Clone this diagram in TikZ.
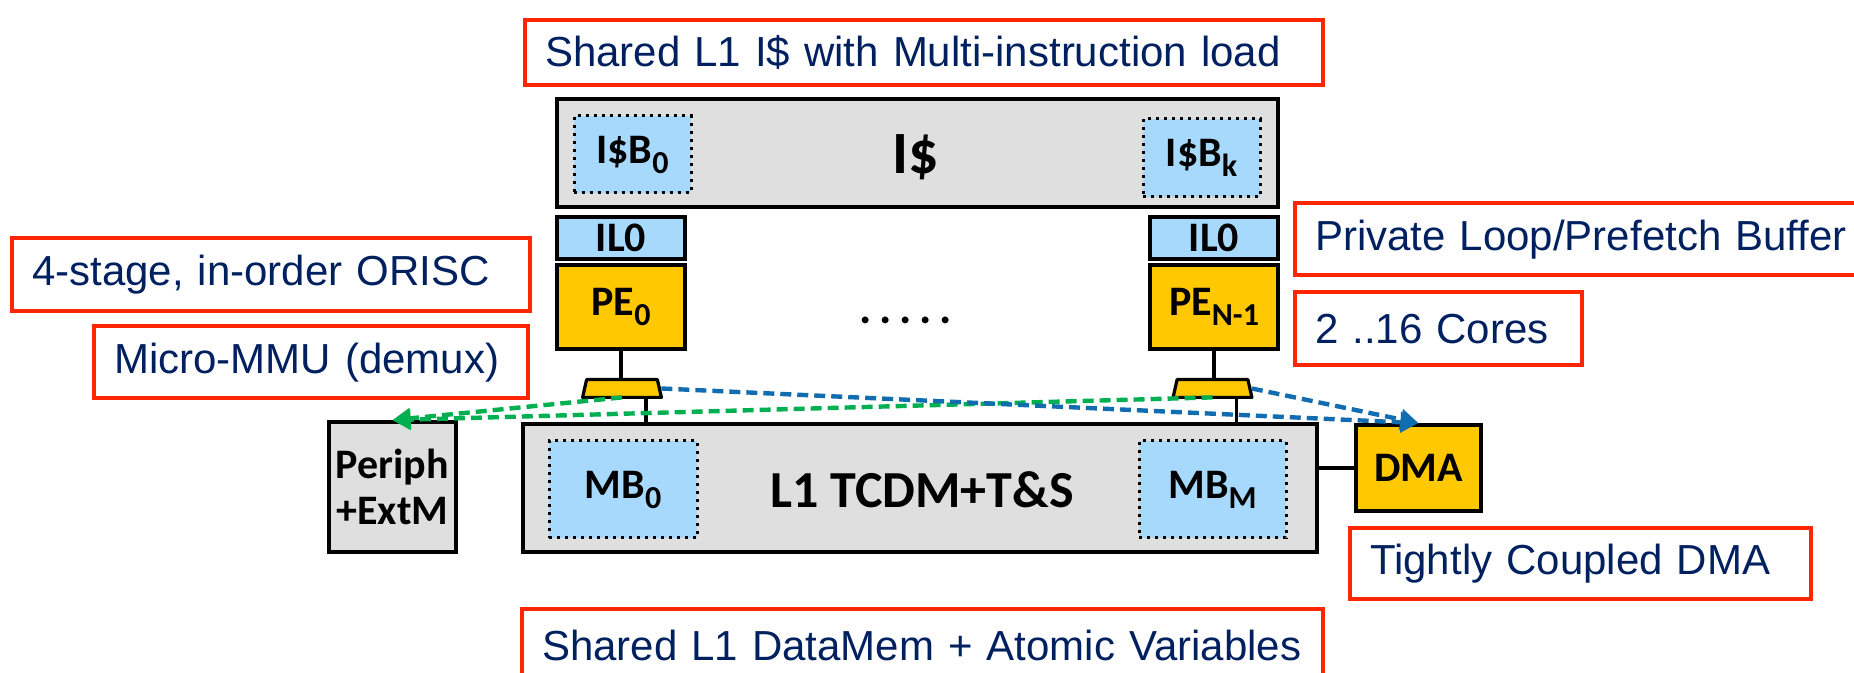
\documentclass[tikz,border=0pt]{standalone}
\usepackage{fontspec}
\setmainfont{Carlito}
\newfontfamily\notefont{Liberation Sans}
\usetikzlibrary{arrows.meta}

\definecolor{noteRed}{RGB}{255,38,0}
\definecolor{noteBlue}{RGB}{0,32,96}
\definecolor{cacheGray}{RGB}{223,223,223}
\definecolor{bankBlue}{RGB}{166,217,252}
\definecolor{coreGold}{RGB}{255,200,0}
\definecolor{periphGreen}{RGB}{0,176,80}
\definecolor{dmaBlue}{RGB}{18,108,176}

\newcommand{\lowsub}[1]{\raisebox{-5pt}{\fontsize{16}{16}\selectfont #1}}

\begin{document}
\begin{tikzpicture}[x=0.5pt,y=-0.5pt,
  notebox/.style={draw=noteRed,line width=2.2pt,text=noteBlue,anchor=north west,
    inner xsep=10pt,inner ysep=0pt,align=left,font=\notefont\fontsize{21}{25}\selectfont},
  hwbox/.style={draw,line width=1.9pt,inner sep=0pt,align=center,
    font=\bfseries\fontsize{21}{23}\selectfont},
  bankbox/.style={hwbox,fill=bankBlue,line width=1.5pt,dash pattern=on 1.5pt off 2.5pt},
  corebox/.style={hwbox,fill=coreGold},
  muxbox/.style={inner sep=0pt,minimum width=39pt,minimum height=8.5pt},
  muxshape/.style={draw,line width=1.6pt,fill=coreGold,line join=round},
  biglabel/.style={inner sep=0pt,font=\bfseries\fontsize{26}{28}\selectfont},
  memlink/.style={line width=1.6pt},
  periphlink/.style={draw=periphGreen,line width=2.2pt,dash pattern=on 5.5pt off 3pt,
    -{Triangle[length=9pt,width=10pt]}},
  dmalink/.style={draw=dmaBlue,line width=2.2pt,dash pattern=on 5.5pt off 3pt,
    -{Triangle[length=9pt,width=10pt]}}]
  \path[use as bounding box,clip] (0,0) rectangle (1854,673);

  % red notes
  \node[notebox,text width=379pt,minimum height=32.5pt] (icnote) at (523,18) {\mbox{Shared L1 I\$ with Multi-instruction load}};
  \node[notebox,text width=239pt,minimum height=36.5pt] (penote) at (10,236) {\mbox{4-stage, in-order ORISC}};
  \node[notebox,text width=197pt,minimum height=36pt] (mmunote) at (92,324) {\mbox{Micro-MMU (demux)}};
  \node[notebox,text width=268.5pt,minimum height=36pt] (ilnote) at (1293,201) {\mbox{Private Loop/Prefetch Buffer}};
  \node[notebox,text width=123.5pt,minimum height=36.5pt] (corenote) at (1293,290) {\mbox{2 ..16 Cores}};
  \node[notebox,text width=210.5pt,minimum height=35.5pt] (dmanote) at (1348,526) {\mbox{Tightly Coupled DMA}};
  \node[notebox,text width=380.5pt,minimum height=36pt] (tcdmnote) at (520,607) {\mbox{Shared L1 DataMem + Atomic Variables}};

  % instruction cache
  \node[hwbox,fill=cacheGray,minimum width=360.5pt,minimum height=54pt] (icache) at (917.5,153) {};
  \node[bankbox,minimum width=58.5pt,minimum height=38.5pt] (ib0) at (632.5,154.5) {I\$B\lowsub{0}};
  \node[bankbox,minimum width=58.5pt,minimum height=39pt] (ibk) at (1201.5,158) {I\$B\lowsub{k}};
  \node[biglabel,font=\bfseries\fontsize{30}{32}\selectfont] (iclabel) at (916,157) {I\$};

  % cores
  \node[hwbox,fill=bankBlue,minimum width=64pt,minimum height=21pt] (il0) at (621,238) {IL0};
  \node[hwbox,fill=bankBlue,minimum width=64pt,minimum height=21pt] (il1) at (1214,238) {IL0};
  \node[corebox,minimum width=64pt,minimum height=42pt] (pe0) at (621,307) {PE\lowsub{0}};
  \node[corebox,minimum width=64pt,minimum height=42pt] (pe1) at (1214,307) {PE\lowsub{N-1}};
  \node[inner sep=0pt,font=\bfseries\fontsize{23}{25}\selectfont] (dots) at (906,320) {.\,.\,.\,.\,.};
  \node[muxbox] (mux0) at (622,388.5) {};
  \node[muxbox] (mux1) at (1212.5,388.5) {};
  \draw[muxshape] ([xshift=2pt]mux0.north west) -- ([xshift=-2pt]mux0.north east)
    -- (mux0.south east) -- (mux0.south west) -- cycle;
  \draw[muxshape] ([xshift=2pt]mux1.north west) -- ([xshift=-2pt]mux1.north east)
    -- (mux1.south east) -- (mux1.south west) -- cycle;

  % data memory
  \node[hwbox,fill=cacheGray,minimum width=397pt,minimum height=64pt] (tcdm) at (920,488) {};
  \node[bankbox,minimum width=74pt,minimum height=48.5pt] (mb0) at (623,489.5) {MB\lowsub{0}};
  \node[bankbox,minimum width=73.5pt,minimum height=48.5pt] (mbm) at (1212.5,489.5) {MB\lowsub{M}};
  \node[biglabel] (tcdmlabel) at (922,490) {L1 TCDM+T\&S};
  \node[hwbox,fill=cacheGray,minimum width=63.5pt,minimum height=65pt] (periph) at (392.5,487) {Periph\\+ExtM};
  \node[corebox,minimum width=62.5pt,minimum height=43pt] (dma) at (1418.5,468) {DMA};

  \draw[memlink] (pe0.south) -- (pe0.south |- mux0.north);
  \draw[memlink] (pe1.south) -- (pe1.south |- mux1.north);
  \draw[memlink] ([xshift=12pt]mux0.south) -- ([xshift=12pt]mux0.south |- tcdm.north);
  \draw[memlink] ([xshift=12pt]mux1.south) -- ([xshift=12pt]mux1.south |- tcdm.north);
  \draw[memlink] (dma.west -| tcdm.east) -- (dma.west);

  \draw[periphlink] (mux0.south) -- (periph.north);
  \draw[periphlink] (mux1.south) -- (periph.north);
  \draw[dmalink] (mux0.east) -- (dma.north);
  \draw[dmalink] (mux1.east) -- (dma.north);
\end{tikzpicture}
\end{document}
